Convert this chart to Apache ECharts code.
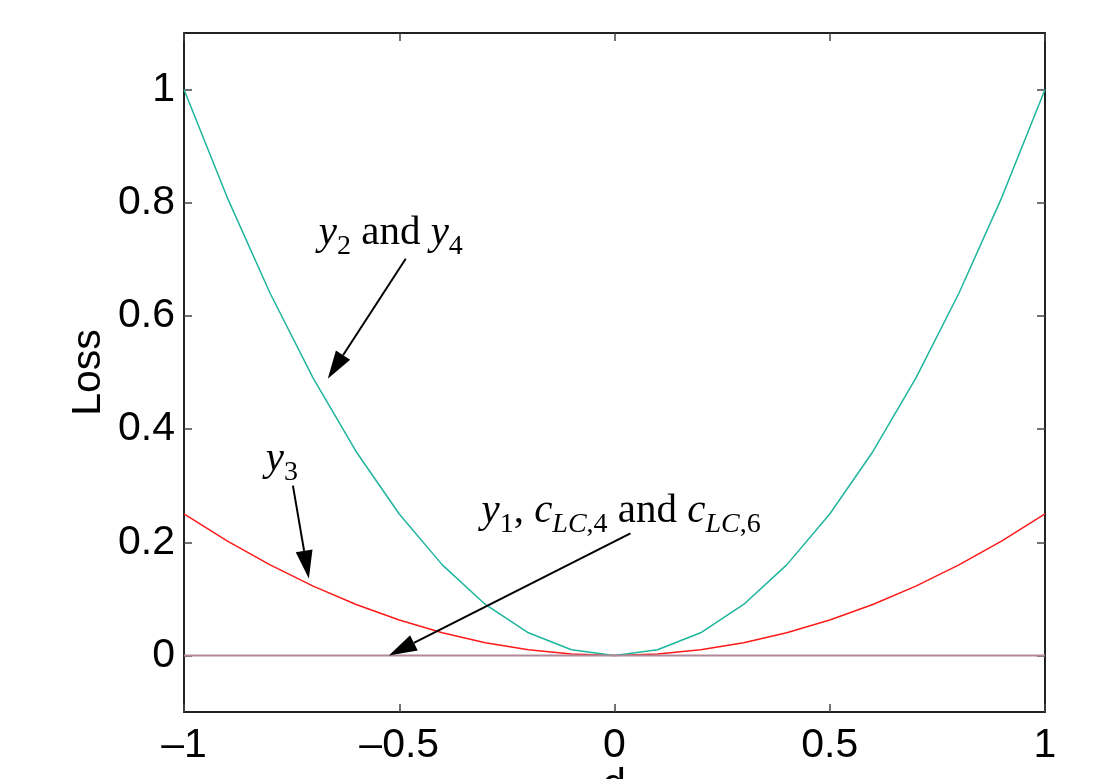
<!DOCTYPE html>
<html>
<head>
<meta charset="utf-8">
<script src="https://cdn.jsdelivr.net/npm/echarts@6/dist/echarts.min.js"></script>
<style>
  html, body { margin: 0; padding: 0; background: #fff; }
  #chart { width: 1097px; height: 779px; }
</style>
</head>
<body>
<div id="chart"></div>
<script>
// d 取值
const dValues = [-1, -0.9, -0.8, -0.7, -0.6, -0.5, -0.4, -0.3, -0.2, -0.1, 0, 0.1, 0.2, 0.3, 0.4, 0.5, 0.6, 0.7, 0.8, 0.9, 1]
// y2 / y4 (青色)
const y2Values = [1, 0.81, 0.64, 0.49, 0.36, 0.25, 0.16, 0.09, 0.04, 0.01, 0, 0.01, 0.04, 0.09, 0.16, 0.25, 0.36, 0.49, 0.64, 0.81, 1]
// y3 (红色)
const y3Values = [0.25, 0.2025, 0.16, 0.1225, 0.09, 0.0625, 0.04, 0.0225, 0.01, 0.0025, 0, 0.0025, 0.01, 0.0225, 0.04, 0.0625, 0.09, 0.1225, 0.16, 0.2025, 0.25]
// y1, cLC4, cLC6 (都在0)
const y1Values = [0, 0, 0, 0, 0, 0, 0, 0, 0, 0, 0, 0, 0, 0, 0, 0, 0, 0, 0, 0, 0]
const yTickValues = [0, 0.2, 0.4, 0.6, 0.8, 1]

// 注释: [尾x, 尾y, 箭头x, 箭头y]  以及文字位置 (数据坐标)
const arrowData = [
  [-0.485, 0.701, -0.666, 0.489],
  [-0.747, 0.300, -0.710, 0.136],
  [0.037, 0.2155, -0.524, 0]
]
const labelPos = [
  [-0.687, 0.740],
  [-0.810, 0.341],
  [-0.309, 0.249]
]
const labelText = [
  '{i|y}{s|2}{r| and }{i|y}{s|4}',
  '{i|y}{s|3}',
  '{i|y}{s|1}{r|, }{i|c}{si|LC}{s|,4}{r| and }{i|c}{si|LC}{s|,6}'
]

const pair = (ys) => dValues.map((d, i) => [d, ys[i]])
const minus = (v) => String(v).replace('-', '\u2013')

const serifRich = {
  i: { fontFamily: 'Liberation Serif', fontStyle: 'italic', fontSize: 41, lineHeight: 48, verticalAlign: 'top', color: '#000' },
  r: { fontFamily: 'Liberation Serif', fontSize: 41, lineHeight: 48, verticalAlign: 'top', color: '#000' },
  s: { fontFamily: 'Liberation Serif', fontSize: 28, lineHeight: 10, verticalAlign: 'bottom', color: '#000' },
  si: { fontFamily: 'Liberation Serif', fontStyle: 'italic', fontSize: 28, lineHeight: 10, verticalAlign: 'bottom', color: '#000' }
}

const axisFont = { fontFamily: 'Liberation Sans', fontSize: 41, color: '#000' }

const myChart = echarts.init(document.getElementById('chart'))
myChart.setOption({
  animation: false,
  grid: { left: 184, right: 52, top: 33, bottom: 67, outerBoundsMode: 'none' },
  xAxis: [{
    type: 'value', min: -1, max: 1, interval: 0.5,
    name: 'd', nameLocation: 'middle', nameGap: 53, nameMoveOverlap: false,
    nameTextStyle: axisFont,
    axisLine: { show: true, onZero: false, lineStyle: { color: '#222', width: 2 } },
    axisTick: { inside: true, length: 8, lineStyle: { color: '#444', width: 1.5 } },
    axisLabel: Object.assign({ margin: 13, formatter: minus }, axisFont),
    splitLine: { show: false }
  }, {
    type: 'value', position: 'top', min: -1, max: 1, interval: 0.5,
    axisLine: { show: true, onZero: false, lineStyle: { color: '#222', width: 2 } },
    axisTick: { inside: true, length: 8, lineStyle: { color: '#444', width: 1.5 } },
    axisLabel: { show: false },
    splitLine: { show: false }
  }],
  yAxis: [{
    type: 'value', min: -0.1, max: 1.1,
    name: 'Loss', nameLocation: 'middle', nameGap: 75, nameRotate: 90, nameMoveOverlap: false,
    nameTextStyle: axisFont,
    axisLine: { show: true, onZero: false, lineStyle: { color: '#222', width: 2 } },
    axisTick: { inside: true, length: 8, customValues: yTickValues, lineStyle: { color: '#444', width: 1.5 } },
    axisLabel: Object.assign({ margin: 9, customValues: yTickValues, formatter: minus }, axisFont),
    splitLine: { show: false }
  }, {
    type: 'value', position: 'right', min: -0.1, max: 1.1,
    axisLine: { show: true, onZero: false, lineStyle: { color: '#222', width: 2 } },
    axisTick: { inside: true, length: 8, customValues: yTickValues, lineStyle: { color: '#444', width: 1.5 } },
    axisLabel: { show: false },
    splitLine: { show: false }
  }],
  series: [{
    name: 'y3', type: 'line', data: pair(y3Values), showSymbol: false,
    lineStyle: { color: '#ff1a1a', width: 1.5 }
  }, {
    name: 'y2', type: 'line', data: pair(y2Values), showSymbol: false,
    lineStyle: { color: '#1fb59c', width: 1.5 }
  }, {
    name: 'y1', type: 'line', data: pair(y1Values), showSymbol: false,
    lineStyle: { color: '#b08a98', width: 2 }
  }, {
    // 箭头和文字注释
    type: 'custom', data: arrowData, z: 10, silent: true,
    renderItem: function (params, api) {
      const tail = api.coord([api.value(0), api.value(1)])
      const tip = api.coord([api.value(2), api.value(3)])
      const dx = tip[0] - tail[0], dy = tip[1] - tail[1]
      const len = Math.sqrt(dx * dx + dy * dy)
      const ux = dx / len, uy = dy / len
      const headLen = 28, headW = 8.5
      const bx = tip[0] - ux * headLen, by = tip[1] - uy * headLen
      const lp = api.coord(labelPos[params.dataIndex])
      return {
        type: 'group',
        children: [{
          type: 'line',
          shape: { x1: tail[0], y1: tail[1], x2: bx, y2: by },
          style: { stroke: '#000', lineWidth: 2 }
        }, {
          type: 'polygon',
          shape: { points: [tip, [bx - uy * headW, by + ux * headW], [bx + uy * headW, by - ux * headW]] },
          style: { fill: '#000' }
        }, {
          type: 'text',
          x: lp[0], y: lp[1],
          style: {
            text: labelText[params.dataIndex],
            rich: serifRich,
            align: 'left', verticalAlign: 'middle'
          }
        }]
      }
    }
  }]
})
</script>
</body>
</html>
